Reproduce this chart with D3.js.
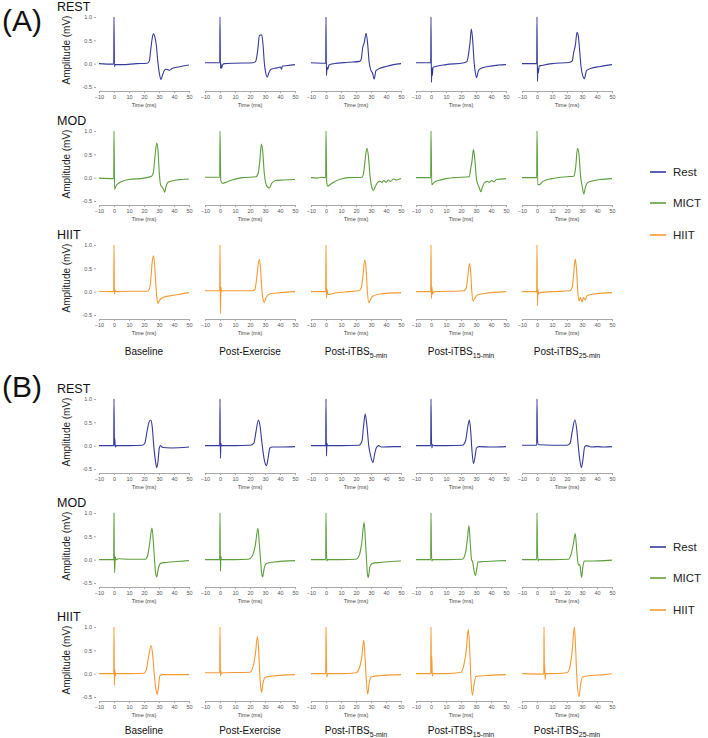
<!DOCTYPE html>
<html><head><meta charset="utf-8">
<script src="https://cdn.jsdelivr.net/npm/d3@7"></script>
<style>body{margin:0;background:#fff} svg{display:block}</style>
</head><body>
<svg id="c" width="708" height="738"></svg>
<script>
// ---------- labels / ticks ----------
const panelLabels = ["(A)", "(B)"];
const rowLabels = ["REST", "MOD", "HIIT"];
const legendLabels = ["Rest", "MICT", "HIIT"];
const conditionColors = ["#363a9b", "#5c9e3b", "#f59a33"];
const colMain = ["Baseline", "Post-Exercise", "Post-iTBS", "Post-iTBS", "Post-iTBS"];
const colSub = ["", "", "5-min", "15-min", "25-min"];
const timeTicks = [-10, 0, 10, 20, 30, 40, 50];
const ampTicks = [-0.5, 0, 0.5, 1.0];

// ---------- traces [time ms, amplitude mV] ----------
const A_REST = [
 [[-10,0],[-5,-0.01],[-0.2,-0.01],[0,1.0],[0.3,-0.06],[0.8,-0.02],[5,-0.02],[15,0],[22,0.01],[23.5,0.05],[24.5,0.3],[25.5,0.55],[26.3,0.64],[27.2,0.58],[28.2,0.4],[29.2,0.05],[30.3,-0.22],[31.3,-0.34],[32.3,-0.25],[33.7,-0.14],[35,-0.12],[37,-0.14],[39,-0.1],[43,-0.07],[50,-0.03]],
 [[-10,0.02],[-0.2,0.02],[0,1.0],[0.3,-0.1],[0.6,0.0],[1,-0.1],[1.8,-0.02],[3,0.0],[10,0.01],[22,0.02],[23.8,0.05],[25,0.25],[26.3,0.6],[27.8,0.62],[28.7,0.4],[29.6,0.0],[30.5,-0.2],[31.5,-0.29],[32.5,-0.2],[34,-0.12],[38,-0.09],[40.3,-0.07],[41,-0.12],[41.6,-0.05],[45,-0.04],[50,-0.02]],
 [[-10,0.02],[-0.2,0.01],[0,1.0],[0.3,-0.25],[0.7,-0.08],[1.2,-0.12],[2,-0.03],[5,0.0],[15,0.03],[22.5,0.05],[23.5,0.1],[24.5,0.35],[25.5,0.45],[26.7,0.65],[27.7,0.45],[28.7,0.05],[30,-0.15],[31,-0.2],[32.1,-0.33],[33.3,-0.15],[36,-0.1],[40,-0.06],[45,-0.02],[50,0.0]],
 [[-10,0.02],[-0.2,0.02],[0,1.0],[0.3,-0.4],[0.6,-0.1],[0.9,-0.25],[1.3,-0.08],[3,-0.06],[10,-0.02],[22,0.02],[24,0.05],[25,0.2],[26,0.45],[26.9,0.74],[27.8,0.5],[28.7,0.05],[29.6,-0.2],[30.4,-0.3],[31.6,-0.15],[33.5,-0.1],[38,-0.06],[45,-0.03],[50,-0.02]],
 [[-10,0.0],[-0.2,0.0],[0,1.0],[0.3,-0.38],[0.6,-0.1],[0.9,-0.2],[1.4,-0.05],[3,-0.04],[10,0.0],[22,0.03],[23.5,0.06],[24.5,0.25],[25.5,0.38],[26.7,0.67],[27.6,0.58],[28.4,0.3],[29.3,-0.05],[30.4,-0.25],[31.6,-0.32],[33,-0.15],[36,-0.1],[42,-0.06],[50,-0.02]]
];
const A_MOD = [
 [[-10,-0.01],[-0.2,-0.02],[0,1.0],[0.4,-0.25],[1.5,-0.17],[3,-0.12],[6,-0.07],[10,-0.04],[20,-0.01],[25,0.03],[26.3,0.12],[27.3,0.45],[28.5,0.74],[29.3,0.6],[30.2,0.1],[31,-0.15],[32,-0.2],[33,-0.25],[33.8,-0.31],[34.6,-0.2],[36,-0.1],[40,-0.06],[45,-0.04],[50,-0.03]],
 [[-10,0.01],[-0.2,0.01],[0,1.0],[0.5,-0.05],[1.5,-0.12],[4,-0.1],[8,-0.05],[15,0.0],[24,0.02],[25.5,0.1],[26.5,0.35],[27.6,0.72],[28.5,0.55],[29.5,0.1],[30.5,-0.12],[31.7,-0.2],[33,-0.22],[34.5,-0.12],[37,-0.06],[42,-0.05],[50,-0.04]],
 [[-10,0.0],[-6,-0.01],[-3,0.01],[-0.2,0.0],[0,1.0],[0.5,-0.1],[1.2,-0.18],[3,-0.14],[6,-0.08],[10,-0.03],[15,0.0],[24,0.01],[25.3,0.15],[26.3,0.45],[27.3,0.63],[28.3,0.45],[29.3,0.05],[30.5,-0.2],[31.7,-0.27],[33,-0.18],[34.5,-0.1],[36,-0.08],[37.3,-0.1],[38.5,-0.06],[40,-0.1],[41.5,-0.05],[43,-0.08],[45,-0.03],[47,-0.05],[50,-0.02]],
 [[-10,0.0],[-0.2,0.0],[0,1.0],[0.5,-0.15],[2,-0.1],[5,-0.06],[10,-0.02],[15,0.0],[25.5,0.02],[26.5,0.2],[27.3,0.35],[28.3,0.6],[29.2,0.4],[30.2,0.0],[31.3,-0.15],[32,-0.2],[33.2,-0.3],[34.3,-0.2],[35.8,-0.1],[37.5,-0.08],[39,-0.1],[40.5,-0.06],[42,-0.09],[43.5,-0.04],[50,-0.02]],
 [[-10,0.0],[-0.2,0.0],[0,1.0],[0.5,-0.15],[1.5,-0.15],[4,-0.08],[10,-0.02],[20,0.02],[24.5,0.03],[25.7,0.2],[27,0.63],[28,0.5],[29,0.05],[30.2,-0.2],[31.2,-0.35],[32.3,-0.2],[34,-0.1],[37,-0.07],[42,-0.04],[50,-0.02]]
];
const A_HIIT = [
 [[-10,0.01],[-0.2,0.0],[0,1.0],[0.3,-0.05],[0.6,0.05],[1,0.0],[10,0.01],[22,0.01],[23.5,0.05],[24.5,0.25],[25.5,0.65],[26.3,0.77],[27,0.6],[27.8,0.2],[28.5,-0.1],[29.2,-0.25],[30.5,-0.18],[33,-0.12],[37,-0.09],[43,-0.06],[50,-0.02]],
 [[-10,0.02],[-0.2,0.02],[0,1.0],[0.3,-0.47],[0.6,0.1],[1,0.0],[1.5,0.02],[22,0.02],[23.3,0.05],[24.5,0.3],[25.6,0.62],[26.4,0.69],[27.2,0.4],[28,0.0],[28.8,-0.18],[29.5,-0.23],[30.8,-0.12],[33,-0.05],[38,-0.03],[50,0.0]],
 [[-10,0.0],[-0.2,0.0],[0,1.0],[0.3,-0.14],[0.7,0.05],[1.2,-0.05],[2,-0.06],[6,-0.03],[15,0.0],[22,0.02],[23.5,0.08],[24.5,0.3],[25.8,0.68],[26.7,0.5],[27.5,0.05],[28.5,-0.24],[29.5,-0.18],[31,-0.1],[36,-0.05],[50,-0.02]],
 [[-10,0.0],[-0.2,0.0],[0,1.0],[0.3,-0.15],[0.6,0.1],[1,-0.05],[2,0.0],[22,0.02],[23.5,0.08],[24.5,0.3],[25.6,0.6],[26.4,0.45],[27.2,0.0],[28.1,-0.2],[29,-0.15],[31,-0.07],[36,-0.04],[50,0.0]],
 [[-10,0.0],[-0.2,0.0],[0,1.0],[0.3,-0.3],[0.6,0.05],[1,-0.05],[2,-0.02],[10,0.0],[22,0.02],[23.5,0.1],[24.5,0.4],[25.5,0.7],[26.3,0.5],[27.2,0.0],[28,-0.2],[29,-0.12],[30,-0.22],[31,-0.12],[32,-0.18],[33.5,-0.08],[38,-0.05],[50,-0.02]]
];
const B_REST = [
 [[-10,0.0],[-0.2,0.0],[0,1.0],[0.3,0.0],[0.5,0.15],[0.9,-0.03],[1.5,0.0],[10,0.0],[19,0.01],[20.5,0.05],[22,0.3],[23.3,0.5],[24.5,0.55],[25.5,0.4],[26.5,0.0],[27.5,-0.3],[28.5,-0.47],[29.3,-0.35],[30.2,-0.05],[31,0.0],[32.5,-0.04],[38,-0.05],[50,-0.03]],
 [[-10,0.0],[-0.2,0.0],[0,1.0],[0.3,-0.27],[0.6,0.05],[1,0.0],[10,0.0],[20,0.01],[22.5,0.05],[24,0.3],[25.6,0.55],[26.8,0.4],[28,0.05],[29.5,-0.3],[31,-0.43],[32,-0.28],[33.3,-0.05],[35,-0.03],[40,-0.03],[50,-0.02]],
 [[-10,0.0],[-0.2,0.0],[0,1.0],[0.3,-0.22],[0.6,0.05],[1,0.0],[10,0.0],[22,0.01],[24,0.1],[25,0.4],[26.1,0.68],[27.2,0.45],[28.5,0.0],[30,-0.25],[31.3,-0.36],[32.3,-0.2],[33.5,-0.05],[35,0.0],[37,-0.03],[45,-0.02],[50,-0.02]],
 [[-10,0.0],[-0.2,0.0],[0,1.0],[0.3,0.15],[0.6,-0.05],[1,0.02],[2,0.0],[10,0.0],[21,0.01],[23,0.1],[24.5,0.4],[25.6,0.55],[26.5,0.3],[27.3,-0.1],[28.3,-0.38],[29.3,-0.25],[30.3,-0.05],[32,-0.02],[40,-0.03],[50,-0.02]],
 [[-10,0.01],[-0.2,0.01],[0,1.0],[0.3,0.15],[0.7,0.03],[1.2,0.02],[10,0.01],[20,0.01],[22,0.05],[23.5,0.3],[25.2,0.55],[26.5,0.35],[27.5,0.0],[28.5,-0.3],[29.6,-0.47],[30.6,-0.3],[31.8,-0.02],[33,0.0],[36,-0.03],[40,-0.02],[45,-0.03],[50,-0.02]]
];
const B_MOD = [
 [[-10,0.0],[-0.2,0.0],[0,1.0],[0.2,0.05],[0.45,-0.28],[0.8,0.06],[1.3,0.0],[3,0.02],[10,0.01],[21,0.01],[22.5,0.1],[24,0.4],[25.3,0.68],[26.2,0.4],[27,0.0],[27.8,-0.3],[28.5,-0.37],[29.5,-0.2],[31,-0.08],[35,-0.06],[42,-0.04],[50,-0.02]],
 [[-10,0.0],[-0.2,0.0],[0,1.0],[0.3,-0.25],[0.6,0.07],[1,0.0],[10,0.0],[19,0.01],[21.5,0.08],[23.5,0.3],[25.3,0.67],[26.2,0.35],[27,0.0],[27.8,-0.3],[28.4,-0.37],[29.5,-0.18],[31,-0.08],[36,-0.05],[50,-0.02]],
 [[-10,0.0],[-0.2,0.0],[0,1.0],[0.3,0.15],[0.6,-0.03],[1,0.0],[10,0.0],[20,0.01],[22,0.08],[23.8,0.35],[25.4,0.8],[26.3,0.4],[27,0.0],[27.6,-0.3],[28.2,-0.38],[29.3,-0.15],[31,-0.08],[36,-0.06],[50,-0.03]],
 [[-10,0.0],[-0.2,0.0],[0,1.0],[0.3,0.15],[0.6,-0.03],[1,0.0],[10,0.0],[21,0.01],[23,0.15],[24.3,0.45],[25.3,0.73],[26.3,0.3],[27,0.0],[27.8,-0.05],[28.5,-0.2],[29.6,-0.34],[30.5,-0.2],[31.3,-0.05],[35,-0.04],[42,-0.03],[50,-0.02]],
 [[-10,0.0],[-0.2,0.0],[0,1.0],[0.3,0.2],[0.7,-0.03],[1.2,0.0],[10,0.0],[21,0.01],[23,0.15],[24.3,0.35],[25.5,0.56],[26.5,0.2],[27.2,-0.05],[27.9,-0.12],[28.5,-0.1],[29.7,-0.38],[30.6,-0.15],[31.5,-0.03],[35,-0.03],[50,-0.01]]
];
const B_HIIT = [
 [[-10,0.0],[-0.2,0.0],[0,1.0],[0.25,-0.25],[0.5,0.1],[0.8,-0.05],[1.2,0.0],[10,0.0],[20,0.01],[21.5,0.08],[23,0.35],[24.8,0.6],[25.8,0.4],[26.8,0.0],[27.8,-0.3],[28.8,-0.45],[29.6,-0.3],[30.5,-0.05],[32,-0.02],[40,-0.02],[50,-0.02]],
 [[-10,0.02],[-0.2,0.02],[0,1.0],[0.3,-0.05],[0.6,0.05],[1,0.0],[2,0.02],[20,0.03],[22,0.15],[23.5,0.4],[25,0.8],[25.8,0.5],[26.5,0.0],[27.2,-0.3],[27.7,-0.4],[28.7,-0.2],[30,-0.08],[35,-0.05],[50,-0.02]],
 [[-10,0.0],[-0.2,0.0],[0,1.0],[0.3,0.25],[0.6,-0.08],[1,0.0],[10,0.0],[20,0.02],[22,0.1],[23.8,0.35],[25.2,0.72],[26,0.35],[26.8,-0.1],[27.8,-0.44],[28.8,-0.2],[30,-0.07],[36,-0.04],[50,-0.02]],
 [[-10,0.0],[-0.2,0.0],[0,1.0],[0.3,0.0],[0.5,0.38],[0.9,-0.05],[1.3,0.0],[10,0.0],[20,0.03],[22,0.2],[23.5,0.5],[24.9,0.95],[25.8,0.5],[26.6,-0.1],[27.6,-0.46],[28.6,-0.25],[30,-0.06],[36,-0.04],[50,-0.02]],
 [[-10,0.0],[4.5,-0.01],[4.7,1.0],[4.9,0.0],[5.1,0.2],[5.4,-0.13],[5.8,0.0],[10,0.0],[20,0.02],[22,0.15],[23.5,0.5],[24.9,1.0],[25.8,0.5],[26.6,-0.1],[28,-0.49],[29,-0.25],[30.3,-0.07],[36,-0.04],[45,-0.02],[50,0.0]]
];

// ---------- layout ----------
const colX = [99, 205, 311, 416, 522];
const panelW = 90, rowH = 70;
const panels = [
  { label: panelLabels[0], labelY: 31, rowTop: [17, 131, 245], colLabelY: 355, legendY: [172, 203, 235], data: [A_REST, A_MOD, A_HIIT] },
  { label: panelLabels[1], labelY: 397, rowTop: [399, 513, 627], colLabelY: 734, legendY: [547, 578, 610], data: [B_REST, B_MOD, B_HIIT] }
];
const FONT = "'Liberation Sans', Arial, sans-serif";

const svg = d3.select("#c");
const x = d3.scaleLinear().domain([-10, 50]).range([0, panelW]);
const y = d3.scaleLinear().domain([-0.5, 1.0]).range([rowH, 0]);
const line = d3.line().x(d => x(d[0])).y(d => y(d[1])).curve(d3.curveMonotoneX);

panels.forEach(p => {
  svg.append("text").attr("x", 2).attr("y", p.labelY)
    .attr("font-family", FONT).attr("font-size", 30).attr("fill", "#111").text(p.label);

  p.rowTop.forEach((top, r) => {
    svg.append("text").attr("x", 57).attr("y", top - 6)
      .attr("font-family", FONT).attr("font-size", 12.5).attr("fill", "#111").text(rowLabels[r]);
    svg.append("text")
      .attr("transform", `translate(70,${top + rowH / 2 - 2}) rotate(-90)`)
      .attr("text-anchor", "middle").attr("font-family", FONT).attr("font-size", 10).attr("fill", "#222")
      .text("Amplitude (mV)");

    colX.forEach((cx, c) => {
      const g = svg.append("g").attr("transform", `translate(${cx},${top})`);
      if (c === 0) {
        const ya = g.append("g").attr("transform", "translate(-3,0)")
          .call(d3.axisLeft(y).tickValues(ampTicks).tickFormat(d => d.toFixed(1)).tickSize(2).tickSizeOuter(0).tickPadding(2));
        ya.select(".domain").attr("stroke", "none");
        ya.selectAll(".tick line").attr("stroke", "#aaa");
        ya.selectAll("text").attr("font-family", FONT).attr("font-size", 5.5).attr("fill", "#555");
      }
      const xa = g.append("g").attr("transform", `translate(0,${rowH + 4})`)
        .call(d3.axisBottom(x).tickValues(timeTicks).tickSize(2).tickSizeOuter(0).tickPadding(2));
      xa.select(".domain").attr("stroke", "#a8a8a8");
      xa.selectAll(".tick line").attr("stroke", "#a8a8a8");
      xa.selectAll("text").attr("font-family", FONT).attr("font-size", 5.5).attr("fill", "#555");
      g.append("text").attr("x", panelW / 2).attr("y", rowH + 20)
        .attr("text-anchor", "middle").attr("font-family", FONT).attr("font-size", 5.5).attr("fill", "#444")
        .text("Time (ms)");

      g.append("path").datum(p.data[r][c])
        .attr("d", line).attr("fill", "none")
        .attr("stroke", conditionColors[r]).attr("stroke-width", 1.1)
        .attr("stroke-linejoin", "round");
    });
  });

  colX.forEach((cx, c) => {
    const t = svg.append("text").attr("x", cx + panelW / 2).attr("y", p.colLabelY)
      .attr("text-anchor", "middle").attr("font-family", FONT).attr("font-size", 10).attr("fill", "#111");
    t.append("tspan").text(colMain[c]);
    if (colSub[c]) t.append("tspan").attr("dy", 3).attr("font-size", 7).text(colSub[c]);
  });

  p.legendY.forEach((ly, i) => {
    svg.append("line").attr("x1", 650).attr("x2", 666).attr("y1", ly).attr("y2", ly)
      .attr("stroke", conditionColors[i]).attr("stroke-width", 1.6);
    svg.append("text").attr("x", 673).attr("y", ly).attr("dy", "0.35em")
      .attr("font-family", FONT).attr("font-size", 11.5).attr("fill", "#222").text(legendLabels[i]);
  });
});
</script>
</body></html>
